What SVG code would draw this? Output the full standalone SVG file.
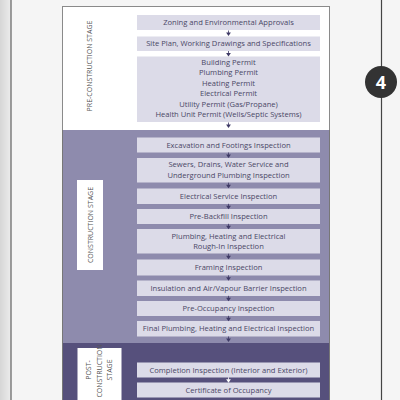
<svg xmlns="http://www.w3.org/2000/svg" width="400" height="400" viewBox="0 0 400 400">
<defs>
<style>
.box{fill:#dcdbe8;}
.t{font-family:"Open Sans","Noto Sans",sans-serif;font-size:7.6px;fill:#4a4766;text-anchor:middle;}
.st{font-family:"Open Sans","Noto Sans",sans-serif;font-size:7px;fill:#555;text-anchor:middle;}
.ar{fill:#3f3a66;}
.arw{fill:#ffffff;}
</style>
<linearGradient id="lg" x1="0" x2="1" y1="0" y2="0">
<stop offset="0" stop-color="#d6d6d6"/><stop offset="1" stop-color="#ececec"/>
</linearGradient>
<g id="arrow"><rect x="-0.4" y="0" width="0.8" height="2.5"/><path d="M-2.4,2 L2.4,2 L0,5.5 Z"/></g>
</defs>
<rect width="400" height="400" fill="#f5f5f5"/>
<rect x="0" y="0" width="11" height="400" fill="url(#lg)"/>
<line x1="11" y1="0" x2="11" y2="400" stroke="#444" stroke-width="1"/>
<line x1="381.5" y1="0" x2="381.5" y2="400" stroke="#444" stroke-width="1.2"/>
<g id="badge"><circle cx="381" cy="82" r="16" fill="#333"/><text x="381" y="89" font-family="Open Sans,Noto Sans,sans-serif" font-size="18" font-weight="bold" fill="#fff" text-anchor="middle">4</text></g>

<g id="stages">
<rect x="62.5" y="6.5" width="267" height="124" fill="#ffffff" stroke="#8a8a8a" stroke-width="1"/>
<rect x="62" y="130" width="268" height="213" fill="#8e8bad"/>
<rect x="62" y="343" width="268" height="57" fill="#56507c"/>
<line x1="62.5" y1="130" x2="62.5" y2="400" stroke="#777" stroke-width="1"/>
<line x1="329.5" y1="130" x2="329.5" y2="400" stroke="#777" stroke-width="1"/>
<text class="st" transform="translate(91.5,66) rotate(-90)">PRE-CONSTRUCTION STAGE</text>
<rect x="77" y="180" width="26" height="90" fill="#ffffff"/>
<text class="st" transform="translate(92.5,225) rotate(-90)">CONSTRUCTION STAGE</text>
<rect x="77.5" y="348" width="44" height="60" fill="#ffffff"/>
<text class="st" transform="translate(91,370) rotate(-90)">POST-</text>
<text class="st" transform="translate(102,371) rotate(-90)">CONSTRUCTION</text>
<text class="st" transform="translate(112,370) rotate(-90)">STAGE</text>
</g>

<g id="n1"><rect class="box" x="137" y="15" width="183" height="15"/><text class="t" x="228.5" y="25">Zoning and Environmental Approvals</text></g>
<g id="n2"><rect class="box" x="137" y="36.5" width="183" height="14.5"/><text class="t" x="228.5" y="46.3">Site Plan, Working Drawings and Specifications</text></g>
<g id="n3"><rect class="box" x="137" y="56.5" width="183" height="65.5"/>
<text class="t" x="228.5" y="65">Building Permit</text>
<text class="t" x="228.5" y="75.4">Plumbing Permit</text>
<text class="t" x="228.5" y="85.8">Heating Permit</text>
<text class="t" x="228.5" y="96.2">Electrical Permit</text>
<text class="t" x="228.5" y="106.6">Utility Permit (Gas/Propane)</text>
<text class="t" x="228.5" y="117">Health Unit Permit (Wells/Septic Systems)</text></g>
<g id="n4"><rect class="box" x="137" y="137.5" width="183" height="15"/><text class="t" x="228.5" y="147.5">Excavation and Footings Inspection</text></g>
<g id="n5"><rect class="box" x="137" y="158" width="183" height="24.5"/><text class="t" x="228.5" y="167.3">Sewers, Drains, Water Service and</text><text class="t" x="228.5" y="177.5">Underground Plumbing Inspection</text></g>
<g id="n6"><rect class="box" x="137" y="188.5" width="183" height="15.5"/><text class="t" x="228.5" y="198.8">Electrical Service Inspection</text></g>
<g id="n7"><rect class="box" x="137" y="209" width="183" height="15"/><text class="t" x="228.5" y="219">Pre-Backfill Inspection</text></g>
<g id="n8"><rect class="box" x="137" y="229" width="183" height="24.5"/><text class="t" x="228.5" y="238.5">Plumbing, Heating and Electrical</text><text class="t" x="228.5" y="248.7">Rough-In Inspection</text></g>
<g id="n9"><rect class="box" x="137" y="259.5" width="183" height="16"/><text class="t" x="228.5" y="270">Framing Inspection</text></g>
<g id="n10"><rect class="box" x="137" y="280.5" width="183" height="15.5"/><text class="t" x="228.5" y="290.8">Insulation and Air/Vapour Barrier Inspection</text></g>
<g id="n11"><rect class="box" x="137" y="301" width="183" height="15"/><text class="t" x="228.5" y="311">Pre-Occupancy Inspection</text></g>
<g id="n12"><rect class="box" x="137" y="321" width="183" height="15.5"/><text class="t" x="228.5" y="331.3">Final Plumbing, Heating and Electrical Inspection</text></g>
<g id="n13"><rect class="box" x="137" y="362.5" width="183" height="15"/><text class="t" x="228.5" y="372.5">Completion Inspection (Interior and Exterior)</text></g>
<g id="n14"><rect class="box" x="137" y="382.5" width="183" height="15"/><text class="t" x="228.5" y="392.5">Certificate of Occupancy</text></g>

<g id="connectors" class="ar">
<use href="#arrow" x="228.5" y="30.5"/>
<use href="#arrow" x="228.5" y="51"/>
<use href="#arrow" x="228.5" y="122.5"/>
<use href="#arrow" x="228.5" y="152.5"/>
<use href="#arrow" x="228.5" y="182.7"/>
<use href="#arrow" x="228.5" y="203.8"/>
<use href="#arrow" x="228.5" y="223.8"/>
<use href="#arrow" x="228.5" y="253.7"/>
<use href="#arrow" x="228.5" y="275.3"/>
<use href="#arrow" x="228.5" y="295.8"/>
<use href="#arrow" x="228.5" y="315.8"/>
<use href="#arrow" x="228.5" y="336.5"/>
<use href="#arrow" x="228.5" y="377.3" class="arw"/>
</g>
</svg>
